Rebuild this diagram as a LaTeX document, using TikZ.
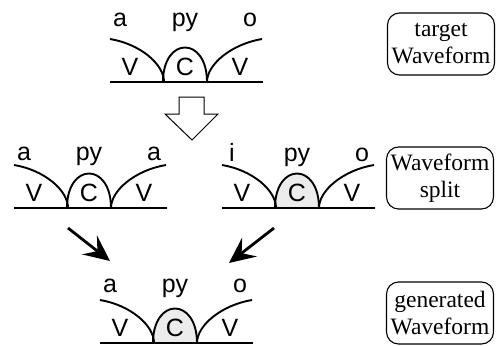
\documentclass[tikz,border=0pt]{standalone}
\usepackage{fontspec}
\setmainfont{Liberation Serif}
\newfontfamily\labfont{Liberation Sans}
\usetikzlibrary{arrows.meta}
\newcommand\wavef[7]{%
 \begin{scope}[shift={(#1,#2)}]
  \fill[#4] (53,0) .. controls (53,-46) and (97,-46) .. (97,0) -- cycle;
  \draw[arcline] (0,-43) .. controls (30,-38) and (54,-18) .. (54,0);
  \draw[arcline] (53,0) .. controls (53,-46) and (97,-46) .. (97,0);
  \draw[arcline] (97,0) .. controls (97,-18) and (122,-38) .. (152,-43);
  \draw[wline] (0,0) -- (153,0);
  \node[lab] (#7a) at (10,-#3) {#5};
  \node[lab] (#7p) at (75,-#3) {py};
  \node[lab] (#7o) at (140,-#3) {#6};
  \node[lab] (#7v) at (20,-7) {V};
  \node[lab] (#7c) at (75,-7) {C};
  \node[lab] (#7w) at (130,-7) {V};
 \end{scope}}
\begin{document}
\begin{tikzpicture}[x=1pt,y=-1pt,
 lab/.style={font=\labfont\fontsize{25}{29}\selectfont, inner sep=0pt, anchor=base},
 arcline/.style={line width=1.9pt},
 wline/.style={line width=2.3pt},
 box/.style={draw, rounded corners=12pt, line width=1.1pt, align=center,
   font=\fontsize{23.5}{27}\selectfont, inner sep=0pt, minimum width=107pt, minimum height=62pt},
 bigarrow/.style={-{Stealth[length=26pt,width=24pt,inset=10pt]}, line width=2.8pt},
 hollow/.style={draw, line width=1pt, fill=white}
]
\useasboundingbox (0,0) rectangle (497,345);
\wavef{110}{82}{55}{white}{a}{o}{t}
\wavef{14}{208}{48}{white}{a}{a}{l}
\wavef{222}{208}{47}{gray!15}{i}{o}{r}
\wavef{100}{343}{51}{gray!15}{a}{o}{g}
% hollow arrow
\draw[hollow] (179,97) -- (204,97) -- (204,114) -- (218,114) -- (192,140) -- (165,114) -- (179,114) -- cycle;
% black arrows
\coordinate (ls) at (68,228);
\coordinate (le) at (110,261);
\coordinate (rs) at (274,228);
\coordinate (re) at (229,263);
\draw[bigarrow] (ls) -- (le);
\draw[bigarrow] (rs) -- (re);
% boxes
\node[box] (b1) at (441,44) {target\\Waveform};
\node[box] (b2) at (440,178) {Waveform\\split};
\node[box] (b3) at (440,313) {generated\\Waveform};
\end{tikzpicture}
\end{document}
